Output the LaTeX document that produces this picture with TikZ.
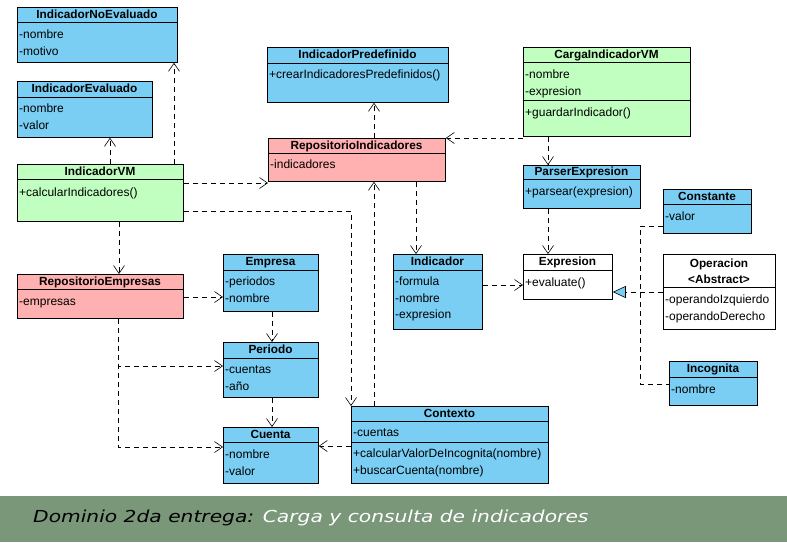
\documentclass[tikz,border=0pt]{standalone}
\usepackage{fontspec}
\setmainfont{Liberation Sans}
\newfontfamily\captionfont{DejaVu Sans}
\usepackage{xcolor}
\usepackage{graphicx}
\usepackage{tikz}
\usetikzlibrary{arrows.meta}

\definecolor{clsblue}{RGB}{122,206,244}
\definecolor{clspink}{RGB}{255,176,176}
\definecolor{clsgreen}{RGB}{192,255,192}
\definecolor{bandgreen}{RGB}{122,151,122}

\begin{document}
\begin{tikzpicture}[x=1pt, y=-1pt,
        cls/.style={draw, line width=0.8pt, anchor=north west, inner sep=0pt},
        ttl/.style={font=\fontsize{11.8}{13}\selectfont\bfseries, inner sep=0pt, text height=8pt, text depth=2pt, yshift=-0.5pt},
        attr/.style={font=\fontsize{12}{13}\selectfont, anchor=west, inner sep=1pt, text height=8pt, text depth=2.5pt, yshift=-1.5pt},
        dep/.style={line width=0.6pt, dash pattern=on 5pt off 4pt, -{Straight Barb[length=8pt, width=11pt]}},
        real/.style={line width=0.6pt, dash pattern=on 5pt off 4pt, -{Triangle[length=13pt, width=12pt, fill=clsblue]}}]

        \fill[white] (0,0) rectangle (787,542);
        \useasboundingbox (0,0) rectangle (787,542);

        % IndicadorNoEvaluado
        \node[cls, fill=clsblue, minimum width=160, minimum height=55] (noeval) at (17,7) {};
        \node[ttl] (noeval-t) at (97,14.5) {IndicadorNoEvaluado};
        \draw[line width=0.8pt] (17,22) -- (177,22);
        \node[attr] (noeval-1) at (18,34) {-nombre};
        \node[attr] (noeval-2) at (18,51) {-motivo};

        % IndicadorEvaluado
        \node[cls, fill=clsblue, minimum width=135, minimum height=56] (ieval) at (17,81) {};
        \node[ttl] (ieval-t) at (84.5,89) {IndicadorEvaluado};
        \draw[line width=0.8pt] (17,97) -- (152,97);
        \node[attr] (ieval-1) at (18,108) {-nombre};
        \node[attr] (ieval-2) at (18,125) {-valor};

        % IndicadorVM
        \node[cls, fill=clsgreen, minimum width=166, minimum height=57] (ivm) at (17,164) {};
        \node[ttl] (ivm-t) at (100,171.5) {IndicadorVM};
        \draw[line width=0.8pt] (17,179) -- (183,179);
        \node[attr] (ivm-1) at (18,192) {+calcularIndicadores()};

        % IndicadorPredefinido
        \node[cls, fill=clsblue, minimum width=181, minimum height=55] (indpre) at (267,47) {};
        \node[ttl] (indpre-t) at (357.5,55) {IndicadorPredefinido};
        \draw[line width=0.8pt] (267,63) -- (448,63);
        \node[attr] (indpre-1) at (268,74) {+crearIndicadoresPredefinidos()};

        % RepositorioIndicadores
        \node[cls, fill=clspink, minimum width=177, minimum height=43] (repind) at (268,138) {};
        \node[ttl] (repind-t) at (356.5,145.5) {RepositorioIndicadores};
        \draw[line width=0.8pt] (268,153) -- (445,153);
        \node[attr] (repind-1) at (269,164) {-indicadores};

        % CargaIndicadorVM
        \node[cls, fill=clsgreen, minimum width=167, minimum height=89] (carga) at (523,47) {};
        \node[ttl] (carga-t) at (606.5,54.5) {CargaIndicadorVM};
        \draw[line width=0.8pt] (523,62) -- (690,62);
        \node[attr] (carga-1) at (524,74) {-nombre};
        \node[attr] (carga-2) at (524,91) {-expresion};
        \draw[line width=0.8pt] (523,100) -- (690,100);
        \node[attr] (carga-3) at (524,112) {+guardarIndicador()};

        % ParserExpresion
        \node[cls, fill=clsblue, minimum width=117, minimum height=43] (parser) at (523,165) {};
        \node[ttl] (parser-t) at (581.5,172) {ParserExpresion};
        \draw[line width=0.8pt] (523,179) -- (640,179);
        \node[attr] (parser-1) at (524,191) {+parsear(expresion)};

        % Constante
        \node[cls, fill=clsblue, minimum width=88, minimum height=44] (const) at (663,189) {};
        \node[ttl] (const-t) at (707,196.5) {Constante};
        \draw[line width=0.8pt] (663,204) -- (751,204);
        \node[attr] (const-1) at (664,216) {-valor};

        % Indicador
        \node[cls, fill=clsblue, minimum width=89, minimum height=75] (ind) at (393,254) {};
        \node[ttl] (ind-t) at (437.5,262) {Indicador};
        \draw[line width=0.8pt] (393,270) -- (482,270);
        \node[attr] (ind-1) at (394,281) {-formula};
        \node[attr] (ind-2) at (394,298) {-nombre};
        \node[attr] (ind-3) at (394,314) {-expresion};

        % Expresion
        \node[cls, fill=white, minimum width=89, minimum height=45] (expr) at (523,254) {};
        \node[ttl] (expr-t) at (567.5,262) {Expresion};
        \draw[line width=0.8pt] (523,270) -- (612,270);
        \node[attr] (expr-1) at (524,282) {+evaluate()};

        % Operacion
        \node[cls, fill=white, minimum width=112, minimum height=75] (oper) at (663,254) {};
        \node[ttl] (oper-t) at (719,264) {Operacion};
        \node[ttl] (oper-s) at (719,280) {<Abstract>};
        \draw[line width=0.8pt] (663,287) -- (775,287);
        \node[attr] (oper-1) at (664,299) {-operandoIzquierdo};
        \node[attr] (oper-2) at (664,316) {-operandoDerecho};

        % Incognita
        \node[cls, fill=clsblue, minimum width=88, minimum height=44] (inc) at (669,361) {};
        \node[ttl] (inc-t) at (713,369) {Incognita};
        \draw[line width=0.8pt] (669,377) -- (757,377);
        \node[attr] (inc-1) at (670,389) {-nombre};

        % RepositorioEmpresas
        \node[cls, fill=clspink, minimum width=166, minimum height=44] (repemp) at (17,274) {};
        \node[ttl] (repemp-t) at (100,281.5) {RepositorioEmpresas};
        \draw[line width=0.8pt] (17,289) -- (183,289);
        \node[attr] (repemp-1) at (18,301) {-empresas};

        % Empresa
        \node[cls, fill=clsblue, minimum width=95, minimum height=57] (emp) at (223,254) {};
        \node[ttl] (emp-t) at (270.5,262) {Empresa};
        \draw[line width=0.8pt] (223,270) -- (318,270);
        \node[attr] (emp-1) at (224,281) {-periodos};
        \node[attr] (emp-2) at (224,298) {-nombre};

        % Periodo
        \node[cls, fill=clsblue, minimum width=95, minimum height=55] (per) at (223,342) {};
        \node[ttl] (per-t) at (270.5,350) {Periodo};
        \draw[line width=0.8pt] (223,358) -- (318,358);
        \node[attr] (per-1) at (224,369) {-cuentas};
        \node[attr] (per-2) at (224,386) {-año};

        % Cuenta
        \node[cls, fill=clsblue, minimum width=95, minimum height=56] (cta) at (223,427) {};
        \node[ttl] (cta-t) at (270.5,434.5) {Cuenta};
        \draw[line width=0.8pt] (223,442) -- (318,442);
        \node[attr] (cta-1) at (224,454) {-nombre};
        \node[attr] (cta-2) at (224,471) {-valor};

        % Contexto
        \node[cls, fill=clsblue, minimum width=197, minimum height=77] (ctx) at (351,406) {};
        \node[ttl] (ctx-t) at (449.5,413.5) {Contexto};
        \draw[line width=0.8pt] (351,421) -- (548,421);
        \node[attr] (ctx-1) at (352,432) {-cuentas};
        \draw[line width=0.8pt] (351,442) -- (548,442);
        \node[attr] (ctx-2) at (352,453) {+calcularValorDeIncognita(nombre)};
        \node[attr] (ctx-3) at (352,470) {+buscarCuenta(nombre)};

        % dependencias
        \draw[dep] (ivm.north -| 110,0) -- (ieval.south -| 110,0);
        \draw[dep] (ivm.north -| 174,0) -- (noeval.south -| 174,0);
        \draw[dep] (ivm.east |- 0,183) -- (repind.west |- 0,183);
        \draw[dep] (ivm.east |- 0,211) -| (ctx.north west);
        \draw[dep] (ivm.south -| 119,0) -- (repemp.north -| 119,0);
        \draw[dep] (repind.north -| 374,0) -- (indpre.south -| 374,0);
        \draw[dep] (carga.west |- 0,138) -- (repind.east |- 0,138);
        \draw[dep] (carga.south -| 548,0) -- (parser.north -| 548,0);
        \draw[dep] (repind.south -| 416,0) -- (ind.north -| 416,0);
        \draw[dep] (ctx.north -| 374,0) -- (repind.south -| 374,0);
        \draw[dep] (parser.south -| 548,0) -- (expr.north -| 548,0);
        \draw[dep] (ind.east |- 0,285) -- (expr.west |- 0,285);
        \draw[dep] (repemp.east |- 0,297) -- (emp.west |- 0,297);
        \draw[dep] (emp.south -| 272,0) -- (per.north -| 272,0);
        \draw[dep] (per.south -| 272,0) -- (cta.north -| 272,0);
        \draw[dep] (repemp.south -| 118,0) |- (per.west |- 0,366);
        \draw[dep] (repemp.south -| 118,0) |- (cta.west |- 0,447);
        \draw[dep] (ctx.west |- 0,446) -- (cta.east |- 0,446);

        % realizacion de Expresion
        \coordinate (join) at (640,292);
        \draw[real] (oper.west |- join) -- (expr.east |- join);
        \draw[line width=0.6pt, dash pattern=on 5pt off 4pt] (const.west |- 0,226) -| (join) |- (inc.west |- 0,384);

        % pie
        \fill[bandgreen] (0,496) rectangle (787,542);
        \node[anchor=west, inner sep=0pt] (caption) at (33,518) {\scalebox{1.226}[1]{\captionfont\itshape\fontsize{16.5}{18}\selectfont Dominio 2da entrega: \textcolor{white}{Carga y consulta de indicadores}}};

    \end{tikzpicture}
\end{document}
